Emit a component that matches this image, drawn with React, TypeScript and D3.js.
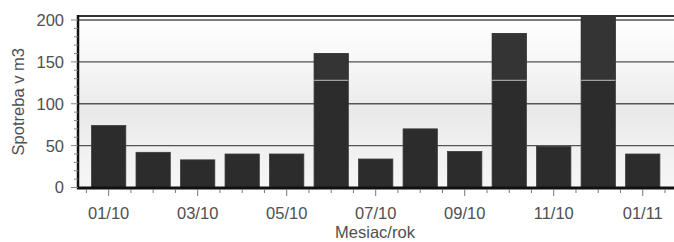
import React from "react";
import * as d3 from "d3";

const categories = ["01/10","02/10","03/10","04/10","05/10","06/10","07/10","08/10","09/10","10/10","11/10","12/10","01/11"];
const values = [74, 42, 33, 40, 40, 160, 34, 70, 43, 184, 49, 204, 40];
const yTicks = [0, 50, 100, 150, 200];
const yTitle = "Spotreba v m3";
const xTitle = "Mesiac/rok";

export default function App() {
  const W = 674, H = 242;
  const left = 78, right = 674, top = 16, bottom = 188;
  const x = d3.scaleBand<string>().domain(categories).range([86.4, 665]).paddingInner(0.23).paddingOuter(0.115);
  const y = d3.scaleLinear().domain([0, 200]).range([187.5, 20]);
  const step = x.step();
  const x0 = x.range()[0];
  const halfTicks = d3.range(0, categories.length * 2 + 1).map(i => x0 + (i * step) / 2);
  const minorY = d3.range(0, 201, 10);
  const font = "'Liberation Sans', Arial, sans-serif";
  const textCol = "#4f4f4f";
  const fs = 16.5;
  return (
    <svg width={W} height={H} style={{ position: "absolute", left: 0, top: 0 }} fontFamily={font}>
      <defs>
        <linearGradient id="bg" x1="0" y1="0" x2="0" y2="1">
          <stop offset="0" stopColor="#ffffff" />
          <stop offset="0.3" stopColor="#f6f6f6" />
          <stop offset="0.55" stopColor="#e9e9e9" />
          <stop offset="0.8" stopColor="#f1f1f1" />
          <stop offset="1" stopColor="#f6f6f6" />
        </linearGradient>
      </defs>
      <rect x={0} y={0} width={W} height={H} fill="#fff" />
      <rect x={left} y={top} width={right - left} height={bottom - top} fill="url(#bg)" />
      {yTicks.filter(t => t > 0).map(t => (
        <line key={"g" + t} x1={left} x2={right} y1={y(t)} y2={y(t)} stroke="#555" strokeWidth={1.3} />
      ))}
      {categories.map((c, i) => {
        const v = values[i];
        const yt = Math.max(y(v), top);
        return (
          <g key={c}>
            <rect x={x(c)} y={yt} width={x.bandwidth()} height={y(0) - yt} fill="#2c2c2c" stroke="#3a3a3a" strokeWidth={0.8} />
            {v > 128 && (
              <rect x={x(c)} y={yt} width={x.bandwidth()} height={y(128) - yt} fill="#343434" />
            )}
            {v > 128 && (
              <line x1={x(c)} x2={(x(c) as number) + x.bandwidth()} y1={y(128)} y2={y(128)} stroke="#bdbdbd" strokeWidth={1} />
            )}
          </g>
        );
      })}
      {/* frame */}
      <line x1={left} x2={right} y1={top} y2={top} stroke="#333" strokeWidth={2} />
      <line x1={left} x2={left} y1={top - 1} y2={bottom + 1} stroke="#111" strokeWidth={2.5} />
      <line x1={left - 1} x2={right} y1={bottom} y2={bottom} stroke="#111" strokeWidth={3} />
      {/* y ticks */}
      {minorY.map(t => (
        <line key={"my" + t} x1={left - (t % 50 === 0 ? 7 : 4)} x2={left} y1={y(t)} y2={y(t)} stroke="#888" strokeWidth={1} />
      ))}
      {yTicks.map(t => (
        <text key={"yt" + t} x={left - 14} y={y(t)} dy="0.36em" textAnchor="end" fontSize={fs} fill={textCol}>{t}</text>
      ))}
      {/* x ticks */}
      {halfTicks.map((px, i) => {
        const major = i % 4 === 1;
        return <line key={"xt" + i} x1={px} x2={px} y1={bottom + 1} y2={bottom + (major ? 8 : 5)} stroke="#777" strokeWidth={1} />;
      })}
      {categories.map((c, i) => i % 2 === 0 ? (
        <text key={"xl" + c} x={(x(c) as number) + x.bandwidth() / 2} y={219} textAnchor="middle" fontSize={fs} fill={textCol}>{c}</text>
      ) : null)}
      <text x={375} y={238} textAnchor="middle" fontSize={fs} fill={textCol}>{xTitle}</text>
      <text transform={`translate(24, ${y(100) - 2}) rotate(-90)`} textAnchor="middle" fontSize={fs} fill={textCol}>{yTitle}</text>
    </svg>
  );
}
